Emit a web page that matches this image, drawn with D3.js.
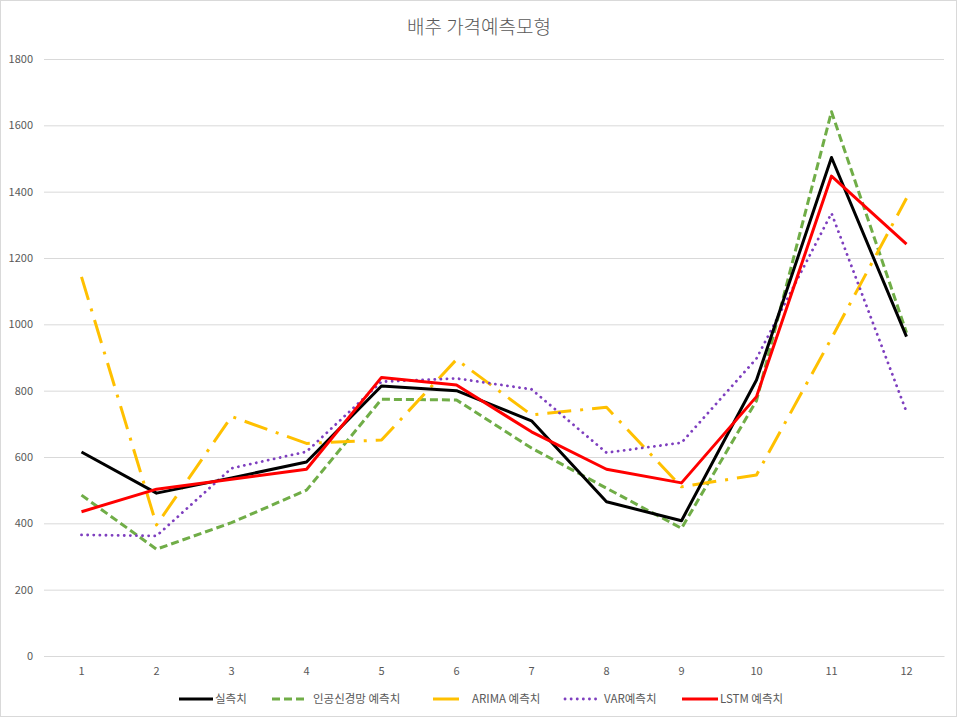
<!DOCTYPE html>
<html><head><meta charset="utf-8">
<script src="https://cdn.jsdelivr.net/npm/d3@7"></script>
<style>
html,body{margin:0;padding:0;background:#fff;}
text{font-family:"Noto Sans CJK KR","Noto Sans",sans-serif;}
</style></head>
<body><svg id="c" width="958" height="718"></svg>
<script>
const categories = ["1","2","3","4","5","6","7","8","9","10","11","12"];
const yTicks = [0,200,400,600,800,1000,1200,1400,1600,1800];
const seriesNames = ["실측치","인공신경망 예측치","ARIMA 예측치","VAR예측치","LSTM 예측치"];
const actual = [615,491,537,585,814,800,709,465,408,832,1503,963];
const ann    = [485,322,402,500,774,772,627,506,385,770,1641,975];
const arima  = [1143,395,722,641,651,894,727,750,510,546,958,1380];
const varP   = [365,362,566,616,827,837,804,613,643,897,1335,736];
const lstm   = [435,503,533,563,840,817,676,563,522,782,1447,1242];

const styles = [
  {color:"#000000", width:3, dash:null, cap:"butt"},
  {color:"#70AD47", width:3, dash:"8,4", cap:"butt"},
  {color:"#FFC000", width:3, dash:"24,9,3,9", cap:"butt"},
  {color:"#7E3FBF", width:2.8, dash:"0.1,6", cap:"round"},
  {color:"#FF0000", width:3, dash:null, cap:"butt"}
];
const data = [actual, ann, arima, varP, lstm];
const drawOrder = [1,2,3,0,4];

const svg = d3.select("#c");
svg.append("rect").attr("x",0.5).attr("y",0.5).attr("width",956).attr("height",716)
  .attr("fill","#fff").attr("stroke","#D9D9D9");

const m = {left:44, right:944, top:59, bottom:656};
const x = d3.scaleBand().domain(categories).range([m.left,m.right]);
const y = d3.scaleLinear().domain([0,1800]).range([m.bottom,m.top]);

svg.append("text").attr("x",479).attr("y",34).attr("text-anchor","middle")
  .attr("font-size",19).attr("font-weight",300).attr("fill","#595959").text("배추 가격예측모형");

const gy = svg.append("g").attr("transform",`translate(${m.left},0)`)
  .call(d3.axisLeft(y).tickValues(yTicks).tickFormat(d3.format("d")).tickSize(-(m.right-m.left)).tickPadding(11));
gy.select(".domain").remove();
gy.selectAll("line").attr("stroke","#D9D9D9").attr("stroke-width",1);
gy.selectAll("text").attr("fill","#595959").attr("font-size",11);

const gx = svg.append("g").attr("transform",`translate(0,${m.bottom})`)
  .call(d3.axisBottom(x).tickSize(0).tickPadding(11));
gx.select(".domain").attr("stroke","#D9D9D9");
gx.selectAll("text").attr("fill","#595959").attr("font-size",11);

const line = d3.line().x((d,i)=>x(categories[i])+x.bandwidth()/2).y(d=>y(d)).curve(d3.curveLinear);
drawOrder.forEach(k=>{
  const s = styles[k];
  svg.append("path").datum(data[k]).attr("d",line).attr("fill","none")
    .attr("stroke",s.color).attr("stroke-width",s.width)
    .attr("stroke-dasharray",s.dash).attr("stroke-linecap",s.cap).attr("stroke-linejoin","round");
});

// legend
const legendX = [179,272,433,565,682];
const legendW = [34,34,26,32,36];
const legendGap = [2,7,13,7,2];
const lg = svg.append("g");
seriesNames.forEach((n,k)=>{
  const s = styles[k];
  const ly = 699;
  const ld = (k===2) ? null : s.dash;
  lg.append("line").attr("x1",legendX[k]).attr("x2",legendX[k]+legendW[k]).attr("y1",ly).attr("y2",ly)
    .attr("stroke",s.color).attr("stroke-width",s.width).attr("stroke-dasharray",ld).attr("stroke-linecap",s.cap);
  lg.append("text").attr("x",legendX[k]+legendW[k]+legendGap[k]).attr("y",ly+4)
    .attr("font-size",11.5).attr("fill","#595959").text(n);
});
</script></body></html>
